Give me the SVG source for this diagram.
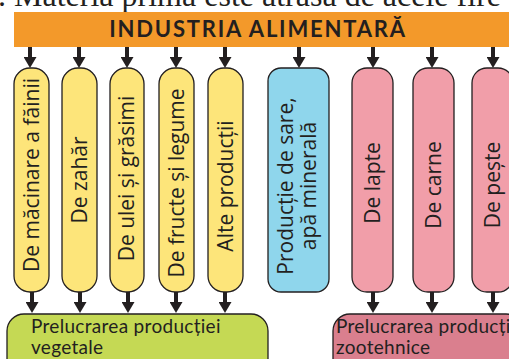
<svg xmlns="http://www.w3.org/2000/svg" width="509" height="359" viewBox="0 0 509 359">
<style>
.pill{stroke:#231f20;stroke-width:1.3}
.y{fill:#fde57a}.b{fill:#8fd6ec}.p{fill:#f19ea9}
.pt{font-family:"Open Sans","Noto Sans",sans-serif;font-size:21px;fill:#231f20;text-anchor:middle}
.bt{font-family:Lato,"Open Sans",sans-serif;font-size:19px;letter-spacing:0.3px;fill:#231f20}
.ar{stroke:#231f20;stroke-width:4;fill:none;marker-end:url(#ah)}
</style>
<defs>
<marker id="ah" markerUnits="userSpaceOnUse" markerWidth="11" markerHeight="13" refX="0" refY="6.5" orient="auto" viewBox="0 0 11 13">
<path d="M0,0 L11,6.5 L0,13 Z" fill="#231f20"/>
</marker>
</defs>
<rect width="509" height="359" fill="#fff"/>
<text x="-2" y="6" font-family="'Liberation Serif',serif" font-size="32" fill="#231f20" textLength="503">. Materia primă este atrasă de acele fire</text>
<g id="title">
<rect x="14" y="12" width="500" height="35" fill="#f3992a"/>
<text x="258" y="37" font-family="Lato,'Open Sans',sans-serif" font-weight="bold" font-size="22" letter-spacing="1.8" text-anchor="middle" fill="#231f20">INDUSTRIA ALIMENTARĂ</text>
</g>
<g id="connectors">
<path class="ar" d="M30,47V57"/>
<path class="ar" d="M79,47V57"/>
<path class="ar" d="M127,47V57"/>
<path class="ar" d="M176,47V57"/>
<path class="ar" d="M225,47V57"/>
<path class="ar" d="M299,47V57"/>
<path class="ar" d="M373,47V57"/>
<path class="ar" d="M432,47V57"/>
<path class="ar" d="M493,47V57"/>
<path class="ar" d="M32,292V302"/>
<path class="ar" d="M80,292V302"/>
<path class="ar" d="M128,292V302"/>
<path class="ar" d="M176,292V302"/>
<path class="ar" d="M225,292V302"/>
<path class="ar" d="M373,292V302"/>
<path class="ar" d="M432,292V302"/>
<path class="ar" d="M493,292V302"/>
</g>
<g id="n1"><rect class="pill y" x="14" y="68" width="35" height="224" rx="16"/><text class="pt" transform="translate(38.8,175) rotate(-90)">De măcinare a făinii</text></g>
<g id="n2"><rect class="pill y" x="62" y="68" width="35" height="224" rx="16"/><text class="pt" transform="translate(86.8,180) rotate(-90)">De zahăr</text></g>
<g id="n3"><rect class="pill y" x="110" y="68" width="34" height="224" rx="16"/><text class="pt" transform="translate(134.3,178.5) rotate(-90)">De ulei și grăsimi</text></g>
<g id="n4"><rect class="pill y" x="159" y="68" width="35" height="224" rx="16"/><text class="pt" transform="translate(183.8,183) rotate(-90)">De fructe și legume</text></g>
<g id="n5"><rect class="pill y" x="208" y="68" width="35" height="224" rx="16"/><text class="pt" transform="translate(232.8,186) rotate(-90)">Alte producții</text></g>
<g id="n6"><rect class="pill b" x="268" y="68" width="61" height="224" rx="13"/><text class="pt" transform="translate(293,186) rotate(-90)">Producție de sare,</text><text class="pt" transform="translate(316,186) rotate(-90)">apă minerală</text></g>
<g id="n7"><rect class="pill p" x="352" y="68" width="41" height="224" rx="15"/><text class="pt" transform="translate(379.8,183) rotate(-90)">De lapte</text></g>
<g id="n8"><rect class="pill p" x="413" y="68" width="41" height="224" rx="15"/><text class="pt" transform="translate(440.8,185) rotate(-90)">De carne</text></g>
<g id="n9"><rect class="pill p" x="472" y="68" width="41" height="224" rx="15"/><text class="pt" transform="translate(499.8,185) rotate(-90)">De pește</text></g>
<g id="n10"><rect class="pill" x="7" y="314" width="261" height="62" rx="17" fill="#c5d954"/><text class="bt" x="31" y="333">Prelucrarea producției</text><text class="bt" x="31" y="354">vegetale</text></g>
<g id="n11"><rect class="pill" x="333" y="314" width="190" height="62" rx="17" fill="#da7f8e"/><text class="bt" x="336" y="333">Prelucrarea producției</text><text class="bt" x="336" y="354">zootehnice</text></g>
</svg>
